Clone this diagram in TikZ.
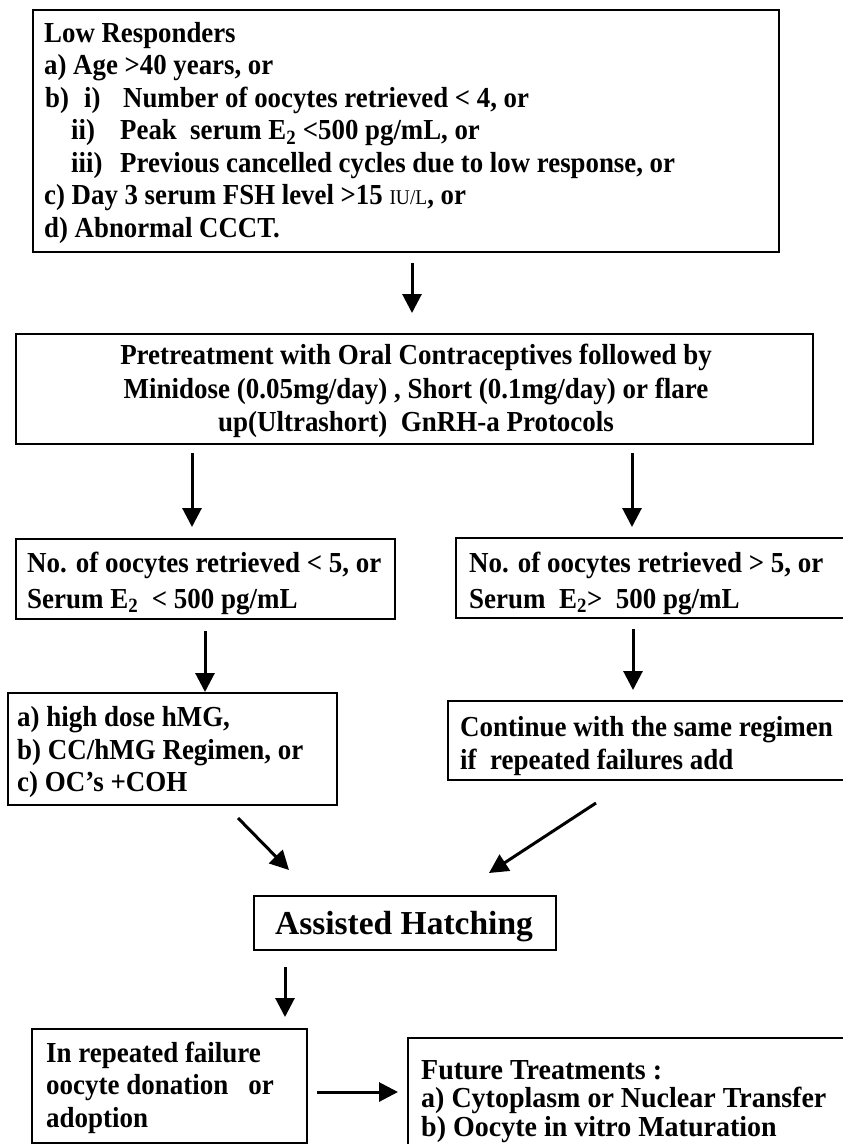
\documentclass[tikz,border=0pt]{standalone}
\usepackage{fontspec}
\setmainfont{Liberation Serif}[FakeStretch=0.93]
\newfontfamily\hatchfont{Liberation Serif}
\newfontfamily\boxonefont{Liberation Serif}[FakeStretch=0.925]
\newfontfamily\futurefont{Liberation Serif}[FakeStretch=0.965]
\usetikzlibrary{arrows.meta}
\newcommand\bodyfont{\fontsize{29}{32}\selectfont\bfseries}
\newcommand\smallunit[1]{{\fontsize{21}{32}\selectfont\mdseries #1}}
\begin{document}
\begin{tikzpicture}[x=1pt,y=-1pt,
  box/.style={draw, line width=1.5pt, anchor=north west, inner sep=0pt},
  ln/.style={anchor=base west, inner sep=0pt, font=\bodyfont},
  lnone/.style={anchor=base west, inner sep=0pt, font=\boxonefont\bodyfont},
  lnfut/.style={anchor=base west, inner sep=0pt, font=\futurefont\bodyfont},
  lnc/.style={anchor=base, inner sep=0pt, font=\bodyfont},
  arr/.style={line width=3pt, -{Triangle[length=19pt,width=19pt]}}
]
\useasboundingbox (0,0) rectangle (843,1144);
\clip (0,0) rectangle (843,1144);

% ---------- boxes ----------
\node[box, minimum width=746pt, minimum height=242pt] (b1)  at (32,9) {};
\node[box, minimum width=797pt, minimum height=110pt] (b2)  at (15,333) {};
\node[box, minimum width=379pt, minimum height=80pt]  (b3l) at (15,538) {};
\node[box, minimum width=400pt, minimum height=80pt]  (b3r) at (455,537) {};
\node[box, minimum width=329pt, minimum height=112pt] (b4l) at (7,692) {};
\node[box, minimum width=410pt, minimum height=79pt]  (b4r) at (447,700) {};
\node[box, minimum width=302pt, minimum height=54pt]  (b5)  at (253,895) {};
\node[box, minimum width=275pt, minimum height=114pt] (b6l) at (31,1028) {};
\node[box, minimum width=450pt, minimum height=130pt] (b6r) at (407,1037) {};

% ---------- texts ----------
\node[lnone] (t11) at (44,42)    {Low Responders};
\node[lnone] (t12) at (44,74.5)  {a) Age >40 years, or};
\node[lnone] (t13) at (45,107)   {b)};
\node[lnone] (t14) at (84,107)   {i)};
\node[lnone] (t15) at (123,107)  {Number of oocytes retrieved < 4, or};
\node[lnone] (t16) at (71,139.5) {ii)};
\node[lnone] (t17) at (120,139.5){Peak\ \ serum E\textsubscript{2} <500 pg/mL, or};
\node[lnone] (t18) at (71,172)   {iii)};
\node[lnone] (t19) at (120,172)  {Previous cancelled cycles due to low response, or};
\node[lnone] (t1a) at (44,204.5) {c) Day 3 serum FSH level >15 \smallunit{IU/L}, or};
\node[lnone] (t1b) at (44,237)   {d) Abnormal CCCT.};

\node[lnc] (t21) at (416,364) {Pretreatment with Oral Contraceptives followed by};
\node[lnc] (t22) at (416,398) {Minidose (0.05mg/day) , Short (0.1mg/day) or flare};
\node[lnc] (t23) at (416,431) {up(Ultrashort)\ \ GnRH-a Protocols};

\node[ln] (t31) at (27,572) {No. of oocytes retrieved < 5, or};
\node[ln] (t32) at (27,608) {Serum E\textsubscript{2}\ \ < 500 pg/mL};

\node[ln] (t33) at (469,572) {No. of oocytes retrieved > 5, or};
\node[ln] (t34) at (469,608) {Serum\ \ E\textsubscript{2}> \ 500 pg/mL};

\node[ln] (t41) at (17,726) {a) high dose hMG,};
\node[ln] (t42) at (17,759) {b) CC/hMG Regimen, or};
\node[ln] (t43) at (17,791) {c) OC's +COH};

\node[ln] (t44) at (460,736) {Continue with the same regimen};
\node[ln] (t45) at (460,769) {if\ \ repeated failures add};

\node[anchor=base, inner sep=0pt, font=\hatchfont\fontsize{33.5}{38}\selectfont\bfseries]
  (t51) at (404,934) {Assisted Hatching};

\node[ln] (t61) at (46,1062) {In repeated failure};
\node[ln] (t62) at (46,1094) {oocyte donation\ \ \ or};
\node[ln] (t63) at (46,1127) {adoption};

\node[lnfut] (t64) at (421,1079) {Future Treatments :};
\node[lnfut] (t65) at (421,1107) {a) Cytoplasm or Nuclear Transfer};
\node[lnfut] (t66) at (421,1136) {b) Oocyte in vitro Maturation};

% ---------- arrow end points ----------
\coordinate (a1s) at (412,263);  \coordinate (a1e) at (412,313);
\coordinate (a2s) at (192,453);  \coordinate (a2e) at (192,527);
\coordinate (a3s) at (632,453);  \coordinate (a3e) at (632,527);
\coordinate (a4s) at (205,631);
\coordinate (a5s) at (633,629);  \coordinate (a5e) at (633,690);
\coordinate (a6s) at (238,818);  \coordinate (a6e) at (289,870);
\coordinate (a7s) at (596,803);  \coordinate (a7e) at (489,873);
\coordinate (a8s) at (285,967);  \coordinate (a8e) at (285,1017);
\coordinate (a9s) at (317,1092); \coordinate (a9e) at (398,1092);

\draw[arr] (a1s) -- (a1e);
\draw[arr] (a2s) -- (a2e);
\draw[arr] (a3s) -- (a3e);
\draw[arr] (a4s) -- (a4s |- b4l.north);
\draw[arr] (a5s) -- (a5e);
\draw[arr] (a6s) -- (a6e);
\draw[arr] (a7s) -- (a7e);
\draw[arr] (a8s) -- (a8e);
\draw[arr] (a9s) -- (a9e);
\end{tikzpicture}
\end{document}
